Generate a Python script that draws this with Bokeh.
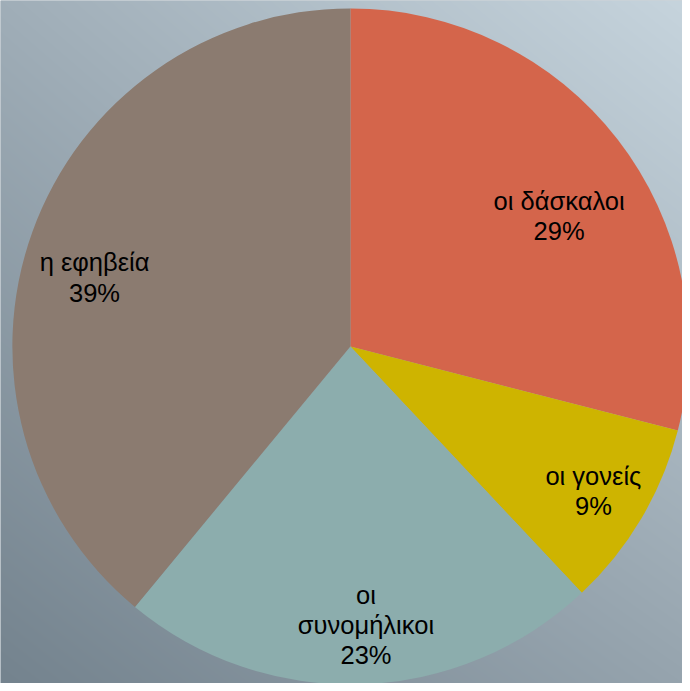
import numpy as np
from bokeh.plotting import figure
from bokeh.models import ColumnDataSource, Range1d
from bokeh.core.properties import value
from bokeh.embed import file_html
from bokeh.resources import INLINE

# ---- data ----
categories = ["οι δάσκαλοι", "οι γονείς", "οι συνομήλικοι", "η εφηβεία"]
label_lines = [["οι δάσκαλοι"], ["οι γονείς"], ["οι", "συνομήλικοι"], ["η εφηβεία"]]
percentages = [29, 9, 23, 39]
colors = ["#D4654B", "#CEB400", "#8CADAD", "#8B7B70"]

# ---- layout ----
W, H = 682, 683
s = W / 690.0
cx, cy, R = 354 * s, H - 350 * s, 342 * s
label_r = [0.728, 0.836, 0.825, 0.784]
label_shift_deg = [-5.8, -0.1, 1.4, 4.7]
font_px = 25.5
line_h = 30.2

p = figure(width=W, height=H, output_backend="svg", toolbar_location=None,
           x_range=Range1d(0, W), y_range=Range1d(0, H), min_border=0)
p.axis.visible = False
p.grid.visible = False
p.outline_line_color = None
p.background_fill_color = "#9aa8b2"
p.border_fill_color = "#9aa8b2"

# background gradient (light top-right, dark bottom-left)
tl = np.array([160, 174, 184], float)
tr = np.array([198, 212, 221], float)
bl = np.array([116, 131, 142], float)
br = np.array([150, 164, 174], float)
u = np.linspace(0, 1, W)[None, :, None]
v = np.linspace(0, 1, H)[:, None, None]  # 0 bottom, 1 top
col = (1 - v) * ((1 - u) * bl + u * br) + v * ((1 - u) * tl + u * tr)
img = np.empty((H, W), dtype=np.uint32)
view = img.view(dtype=np.uint8).reshape((H, W, 4))
view[:, :, :3] = col.astype(np.uint8)
view[:, :, 3] = 255
p.image_rgba(image=[img], x=0, y=0, dw=W, dh=H)

# wedges
vals = np.array(percentages, float)
frac = vals / vals.sum()
cum = np.concatenate([[0], np.cumsum(frac)])
start = np.pi / 2 - cum[:-1] * 2 * np.pi
end = np.pi / 2 - cum[1:] * 2 * np.pi
src = ColumnDataSource(dict(start=start, end=end, color=colors,
                            x=[cx] * 4, y=[cy] * 4))
p.wedge(x="x", y="y", radius=R, start_angle="start", end_angle="end",
        direction="clock", fill_color="color", line_color=None, source=src)

# labels
tx, ty, tt = [], [], []
for i, lines in enumerate(label_lines):
    mid = (start[i] + end[i]) / 2 + np.deg2rad(label_shift_deg[i])
    bx = cx + label_r[i] * R * np.cos(mid)
    by = cy + label_r[i] * R * np.sin(mid)
    all_lines = lines + [f"{percentages[i]}%"]
    n = len(all_lines)
    for k, t in enumerate(all_lines):
        tx.append(bx)
        ty.append(by + ((n - 1) / 2 - k) * line_h)
        tt.append(t)
p.text(x=tx, y=ty, text=tt, text_align="center", text_baseline="middle",
       text_font=value("Liberation Sans"), text_font_size=f"{font_px}px",
       text_color="#000000")

open("out.html", "w").write(file_html(p, INLINE))
